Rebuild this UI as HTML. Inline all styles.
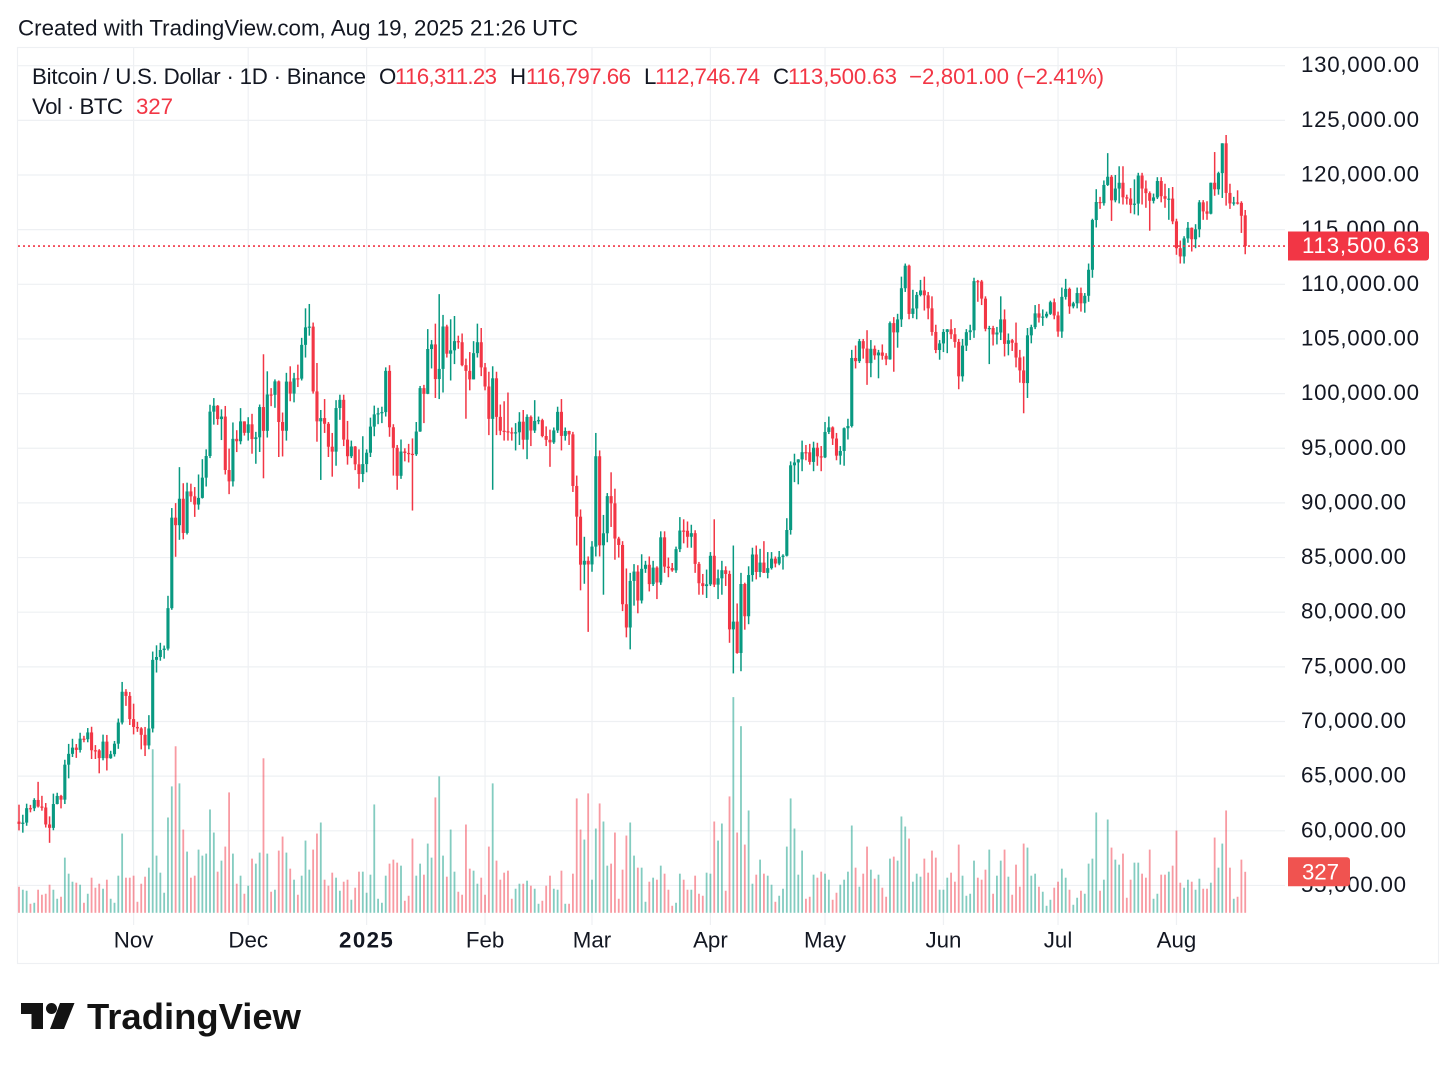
<!DOCTYPE html>
<html lang="en">
<head>
<meta charset="utf-8">
<title>Bitcoin / U.S. Dollar chart</title>
<style>
html,body{margin:0;padding:0;background:#fff;width:1456px;height:1070px;overflow:hidden}
svg{display:block;font-family:"Liberation Sans",Arial,sans-serif}
text{fill:#131722;font-size:22.3px}
.red{fill:#F23645}
</style>
</head>
<body>
<svg id="chart" xmlns="http://www.w3.org/2000/svg" width="1456" height="1070" viewBox="0 0 1456 1070">
  <rect x="0" y="0" width="1456" height="1070" fill="#ffffff"/>
  <text x="18" y="35.5" textLength="560">Created with TradingView.com, Aug 19, 2025 21:26 UTC</text>
  <rect x="17.5" y="47.5" width="1421" height="916" fill="none" stroke="#eef0f3" stroke-width="1.2"/>
  <g id="grid"></g>
  <g id="volumeBars"></g>
  <g id="candles"></g>
  <g id="priceAxis"></g>
  <g id="timeAxis"></g>
  <g>
    <text x="32" y="84" textLength="334">Bitcoin / U.S. Dollar · 1D · Binance</text>
    <text x="379" y="84">O</text>
    <text class="red" x="395" y="84" textLength="102">116,311.23</text>
    <text x="510" y="84">H</text>
    <text class="red" x="526" y="84" textLength="105">116,797.66</text>
    <text x="644" y="84">L</text>
    <text class="red" x="655" y="84" textLength="105">112,746.74</text>
    <text x="773" y="84">C</text>
    <text class="red" x="788" y="84" textLength="109">113,500.63</text>
    <text class="red" x="909" y="84" textLength="100">−2,801.00</text>
    <text class="red" x="1016" y="84" textLength="88">(−2.41%)</text>
    <text x="32" y="114" textLength="91">Vol · BTC</text>
    <text class="red" x="136" y="114" textLength="37">327</text>
  </g>
  <line id="lastPriceLine" x1="18" x2="1288" stroke="#F23645" stroke-width="1.7" stroke-dasharray="2 3"/>
  <g id="lastPriceTag"></g>
  <g id="lastVolumeTag"></g>
  <g>
    <path fill="#131313" d="M21 1003H43V1029H31.5V1014H21Z M60 1003H74.5L64 1029H50Z"/>
    <circle cx="51.5" cy="1008.5" r="5.5" fill="#131313"/>
    <text x="87" y="1029" textLength="214" lengthAdjust="spacingAndGlyphs" style="font-size:36px;font-weight:700;fill:#131313">TradingView</text>
  </g>
</svg>
<script>
// Axis labels
const priceTicks = [130000,125000,120000,115000,110000,105000,100000,95000,90000,85000,80000,75000,70000,65000,60000,55000];
const timeTickDates = ['2024-11-01','2024-12-01','2025-01-01','2025-02-01','2025-03-01','2025-04-01','2025-05-01','2025-06-01','2025-07-01','2025-08-01'];
const timeTickLabels = ['Nov','Dec','2025','Feb','Mar','Apr','May','Jun','Jul','Aug'];
const firstDate = '2024-10-02';

// Daily prices, USD thousands
const opens = [
60.84,60.63,60.75,62.07,62.06,62.82,62.22,62.13,60.58,60.27,
62.45,63.19,62.85,66.05,67.04,67.61,67.4,68.43,68.38,69.0,
67.37,67.36,66.65,68.16,66.64,67.01,67.97,69.91,72.72,72.34,
70.22,69.5,69.37,68.78,67.81,69.36,75.64,75.9,76.54,76.67,
80.37,88.65,87.96,90.38,87.25,91.05,90.6,89.85,90.46,92.31,
94.29,98.35,98.89,97.67,97.9,93.01,91.97,95.86,95.64,97.46,
96.41,97.19,95.84,96.0,98.77,96.59,99.92,99.89,101.12,97.4,
96.6,101.1,100.0,101.4,101.37,104.46,106.06,106.13,100.2,97.46,
97.76,97.24,95.14,94.69,98.68,99.43,95.79,94.27,95.16,93.53,
92.64,93.55,94.59,96.98,98.1,98.2,98.31,102.08,96.92,95.04,
92.48,94.7,94.57,94.49,94.45,96.53,100.5,99.98,104.08,104.5,
101.33,102.26,106.14,103.65,103.96,104.8,104.7,102.6,102.08,101.3,
103.7,104.7,102.4,100.65,97.69,101.4,97.87,96.6,96.55,96.46,
96.44,96.46,97.43,95.78,97.87,96.62,97.5,97.57,96.12,95.77,
95.54,96.63,98.33,96.13,96.58,96.27,91.55,88.74,84.35,84.7,
84.37,86.0,94.27,86.12,87.22,90.62,89.96,86.74,86.15,80.73,
78.6,82.86,83.72,81.07,83.97,84.34,82.57,84.08,82.72,86.85,
84.17,84.04,83.83,85.77,87.47,87.45,86.9,87.23,84.42,82.65,
82.39,82.55,85.16,82.52,83.1,83.84,83.5,78.43,79.14,76.27,
82.58,79.63,83.4,85.28,83.68,84.54,83.6,84.03,84.9,84.45,
85.06,85.17,87.52,93.44,93.7,93.98,94.64,94.63,93.75,95.05,
94.26,94.17,96.49,96.91,95.89,94.32,94.75,96.83,97.03,103.26,
102.97,104.8,104.12,102.79,104.1,103.5,103.76,103.46,103.13,106.45,
105.6,106.79,109.64,111.7,107.29,107.79,109.03,109.44,108.99,107.8,
105.64,103.99,104.59,105.64,105.88,105.43,104.73,101.58,104.39,105.62,
105.79,110.29,110.26,108.69,105.93,106.0,105.41,105.59,106.79,104.55,
104.88,104.65,103.3,102.12,100.96,105.33,106.08,107.34,106.95,107.05,
107.3,108.36,107.15,105.68,108.85,109.58,107.98,108.26,109.2,108.26,
108.95,111.33,115.88,117.53,117.42,119.09,119.84,117.68,118.76,119.29,
117.96,117.84,117.27,117.38,119.95,118.76,118.34,117.64,117.95,119.45,
118.06,117.83,117.84,115.76,113.3,112.55,114.2,115.17,114.12,115.03,
117.5,116.67,116.46,119.29,118.69,120.17,122.9,118.36,117.4,117.49,
117.45,116.31];
const highs = [
62.39,61.47,62.48,62.37,62.98,64.48,63.2,62.54,61.32,63.4,
63.48,63.29,66.5,67.95,68.42,67.94,68.97,68.69,69.4,69.52,
67.84,67.47,68.8,68.77,67.32,68.22,70.27,73.62,72.96,72.7,
71.63,69.97,69.48,69.5,70.58,76.4,76.97,77.2,76.95,81.5,
89.53,89.98,93.27,91.8,91.85,91.76,91.45,92.6,94.0,94.9,
98.98,99.59,98.95,98.56,98.87,94.97,97.36,96.65,98.67,97.46,
97.84,98.15,96.5,99.0,103.6,102.04,100.5,101.3,101.2,98.27,
101.9,102.5,101.9,102.65,105.1,107.8,108.2,106.5,102.8,98.5,
99.5,97.4,96.4,99.4,99.9,99.9,97.5,95.7,95.2,94.9,
96.1,94.9,97.8,98.9,98.7,98.8,102.4,102.6,97.2,95.3,
95.8,95.0,95.4,95.9,97.4,100.7,100.8,105.9,104.9,106.4,
109.1,107.2,106.3,106.8,107.1,105.3,105.5,103.2,103.8,104.8,
106.4,106.0,102.8,102.0,102.5,102.0,99.0,99.3,100.1,96.9,
97.3,98.3,98.5,98.1,98.0,99.4,97.9,97.7,97.0,96.7,
96.9,98.8,99.5,96.9,96.6,96.5,92.5,89.4,86.9,85.1,
86.5,96.4,94.8,88.9,90.9,92.8,91.3,86.9,86.5,84.0,
83.6,84.4,84.3,85.3,84.7,85.1,84.7,84.2,87.4,87.4,
85.0,84.5,86.0,88.7,88.5,88.3,88.0,87.5,84.6,83.5,
83.9,85.5,88.5,83.9,84.7,84.2,83.8,86.1,80.8,83.6,
82.7,84.2,85.9,86.1,85.8,86.5,85.5,85.5,85.1,85.6,
85.3,88.6,93.8,94.5,94.0,95.7,95.3,95.4,95.6,95.5,
95.2,97.4,97.9,97.0,96.4,95.2,96.9,97.7,104.0,104.4,
105.0,105.0,105.8,104.9,104.4,104.0,104.5,103.7,106.6,107.0,
107.3,110.7,111.9,111.8,109.5,109.3,110.4,110.7,109.3,108.9,
106.3,104.9,105.9,105.9,106.8,106.0,105.0,105.0,105.9,106.3,
110.6,110.4,110.4,108.9,106.2,106.2,106.1,108.9,107.7,105.5,
105.0,106.5,104.0,103.4,106.0,106.3,108.1,108.2,107.7,107.5,
108.5,108.7,107.5,109.7,110.5,109.7,108.4,109.7,109.7,109.2,
111.9,116.0,118.7,118.0,119.5,122.0,120.0,120.0,120.8,120.8,
118.2,118.8,119.6,120.2,120.2,119.5,118.5,118.3,119.8,119.8,
119.2,118.8,118.9,116.0,114.0,114.4,115.7,115.2,115.5,117.7,
117.7,117.6,119.3,122.1,120.3,122.9,123.66,119.2,118.0,118.6,
117.6,116.8];
const lows = [
60.04,59.83,60.46,61.69,61.8,62.13,61.84,60.3,58.9,60.05,
62.42,62.05,62.45,64.8,66.75,66.67,67.16,68.1,68.1,66.57,
66.57,65.26,66.45,65.52,66.59,66.79,67.5,69.73,71.43,69.68,
68.82,69.05,67.45,66.84,67.46,69.0,74.48,75.56,75.75,76.5,
80.22,85.07,86.62,86.67,87.11,90.09,88.72,89.38,90.4,91.5,
94.1,97.16,97.14,95.75,92.6,90.8,91.5,94.65,95.36,96.16,
95.7,94.5,93.58,94.66,92.25,95.98,98.85,98.7,94.2,94.25,
95.7,99.3,99.2,100.6,101.2,103.3,105.3,100.0,95.6,92.1,
96.4,94.2,92.4,93.4,97.6,95.2,93.5,94.1,93.0,91.3,
91.9,92.8,94.2,96.1,97.2,97.3,97.9,96.05,92.5,91.2,
92.2,93.8,93.7,89.3,94.3,96.5,97.3,99.95,102.3,99.6,
99.5,100.1,103.3,101.2,102.7,104.1,102.5,97.7,100.3,101.3,
103.3,101.6,100.3,96.2,91.2,96.2,96.2,95.7,95.7,95.7,
94.8,95.3,94.9,94.0,95.2,96.4,97.2,96.0,95.2,93.3,
95.4,96.4,94.8,95.7,95.3,91.0,86.1,82.0,82.6,78.2,
83.7,85.1,85.1,81.6,86.4,87.8,84.8,85.0,80.1,77.7,
76.6,80.6,79.9,80.8,83.6,81.9,82.4,81.2,82.5,83.6,
83.2,83.7,83.6,85.5,86.3,85.9,85.9,83.6,81.6,81.6,
81.3,82.4,82.3,81.2,81.6,82.4,77.2,74.4,76.2,74.6,
78.4,78.9,82.8,83.0,83.2,83.6,83.1,83.9,84.1,84.3,
83.9,85.1,87.1,91.9,91.7,92.9,93.9,93.5,92.9,93.4,
92.9,94.1,96.3,95.3,93.9,93.5,93.4,95.8,96.9,102.3,
102.8,103.2,100.8,101.5,103.1,101.4,103.1,102.6,103.1,102.0,
104.2,106.1,109.3,106.8,106.9,106.8,108.9,107.6,106.8,105.3,
103.7,103.1,103.8,103.7,105.0,104.2,100.4,101.1,103.9,104.9,
105.1,108.4,108.1,105.7,102.7,104.4,104.5,104.9,103.4,103.5,
103.9,102.4,101.0,98.2,99.6,104.6,105.9,106.5,106.2,106.9,
107.2,106.8,105.2,105.1,108.6,107.3,107.8,107.8,107.5,107.4,
108.4,110.6,115.2,116.9,117.2,119.0,115.8,117.5,117.4,117.3,
117.3,116.5,116.4,116.3,117.3,117.0,114.9,117.4,117.8,117.5,
117.0,115.9,115.5,112.7,111.9,111.9,113.8,113.0,113.3,114.3,
115.9,115.9,116.4,118.1,118.2,117.9,117.2,116.9,117.2,117.3,
114.7,112.75];
const closes = [
60.63,60.75,62.07,62.06,62.82,62.22,62.13,60.58,60.27,62.45,
63.19,62.85,66.05,67.04,67.61,67.4,68.43,68.38,69.0,67.37,
67.36,66.65,68.16,66.64,67.01,67.97,69.91,72.72,72.34,70.22,
69.5,69.37,68.78,67.81,69.36,75.64,75.9,76.54,76.67,80.37,
88.65,87.96,90.38,87.25,91.05,90.6,89.85,90.46,92.31,94.29,
98.35,98.89,97.67,97.9,93.01,91.97,95.86,95.64,97.46,96.41,
97.19,95.84,96.0,98.77,96.59,99.92,99.89,101.12,97.4,96.6,
101.1,100.0,101.4,101.37,104.46,106.06,106.13,100.2,97.46,97.76,
97.24,95.14,94.69,98.68,99.43,95.79,94.27,95.16,93.53,92.64,
93.55,94.59,96.98,98.1,98.2,98.31,102.08,96.92,95.04,92.48,
94.7,94.57,94.49,94.45,96.53,100.5,99.98,104.08,104.5,101.33,
102.26,106.14,103.65,103.96,104.8,104.7,102.6,102.08,101.3,103.7,
104.7,102.4,100.65,97.69,101.4,97.87,96.6,96.55,96.46,96.44,
96.46,97.43,95.78,97.87,96.62,97.5,97.57,96.12,95.77,95.54,
96.63,98.33,96.13,96.58,96.27,91.55,88.74,84.35,84.7,84.37,
86.0,94.27,86.12,87.22,90.62,89.96,86.74,86.15,80.73,78.6,
82.86,83.72,81.07,83.97,84.34,82.57,84.08,82.72,86.85,84.17,
84.04,83.83,85.77,87.47,87.45,86.9,87.23,84.42,82.65,82.39,
82.55,85.16,82.52,83.1,83.84,83.5,78.43,79.14,76.27,82.58,
79.63,83.4,85.28,83.68,84.54,83.6,84.03,84.9,84.45,85.06,
85.17,87.52,93.44,93.7,93.98,94.64,94.63,93.75,95.05,94.26,
94.17,96.49,96.91,95.89,94.32,94.75,96.83,97.03,103.26,102.97,
104.8,104.12,102.79,104.1,103.5,103.76,103.46,103.13,106.45,105.6,
106.79,109.64,111.7,107.29,107.79,109.03,109.44,108.99,107.8,105.64,
103.99,104.59,105.64,105.88,105.43,104.73,101.58,104.39,105.62,105.79,
110.29,110.26,108.69,105.93,106.0,105.41,105.59,106.79,104.55,104.88,
104.65,103.3,102.12,100.96,105.33,106.08,107.34,106.95,107.05,107.3,
108.36,107.15,105.68,108.85,109.58,107.98,108.26,109.2,108.26,108.95,
111.33,115.88,117.53,117.42,119.09,119.84,117.68,118.76,119.29,117.96,
117.84,117.27,117.38,119.95,118.76,118.34,117.64,117.95,119.45,118.06,
117.83,117.84,115.76,113.3,112.55,114.2,115.17,114.12,115.03,117.5,
116.67,116.46,119.29,118.69,120.17,122.9,118.36,117.4,117.49,117.45,
116.27,113.5];
// Daily volume, BTC
const volumes = [
208,184,176,72,80,184,144,152,224,184,112,128,440,312,248,240,224,80,152,280,
200,232,192,264,112,80,296,632,280,280,296,88,232,288,360,1304,456,320,160,760,
1008,1328,1032,664,488,280,296,504,456,472,824,640,328,416,528,960,472,232,296,152,
216,432,392,480,1232,472,168,184,496,608,480,352,264,144,296,576,344,504,632,
720,264,216,320,280,176,248,264,104,200,328,328,160,304,864,112,80,296,392,424,400,
376,96,136,592,296,392,304,552,440,920,1088,456,288,664,328,168,144,704,352,336,
232,280,144,528,1032,416,264,320,336,112,192,232,232,256,216,192,72,96,216,296,
192,184,336,72,72,312,912,664,584,952,
264,672,872,728,376,392,640,112,344,616,720,456,360,360,88,248,280,264,376,312,
184,56,80,312,264,184,184,296,152,136,320,312,728,576,712,176,928,1720,640,1488,
544,816,232,304,424,312,296,224,88,136,192,528,912,672,304,
496,112,128,304,280,328,312,264,104,160,224,264,328,696,360,208,312,528,344,272,
304,200,128,432,448,416,768,688,592,248,312,288,432,320,496,440,184,184,280,320,
248,544,296,136,152,416,280,264,344,504,152,296,416,504,288,144,384,208,552,520,
296,312,208,168,56,104,200,248,352,280,184,64,120,176,152,392,432,800,176,264,
744,520,424,384,472,120,264,400,400,312,280,504,112,152,304,304,328,376,656,240,
200,264,248,184,272,192,192,240,600,360,552,816,360,112,128,424,327];

const lastPrice = 113500.63;
const lastPriceText = '113,500.63';
const lastVolumeText = '327';

const SVG_NS = 'http://www.w3.org/2000/svg';
const DAY_MS = 86400000;
const GREEN = '#089981';
const RED = '#F23645';

function xAxis(dayIndex){ return 19 + dayIndex * 3.82; }
function yPrice(usd){ return 65.7 + (130000 - usd) * 0.01093; }
function yVolume(v){ return 912.8 - v * 0.1254; }
function dayIndex(date){ return Math.round((Date.parse(date) - Date.parse(firstDate)) / DAY_MS); }
function formatPrice(v){ return v.toLocaleString('en-US', {minimumFractionDigits:2, maximumFractionDigits:2}); }
function make(tag, attrs, parent){
  const el = document.createElementNS(SVG_NS, tag);
  for (const k in attrs) el.setAttribute(k, attrs[k]);
  parent.appendChild(el);
  return el;
}

const gridGroup = document.getElementById('grid');
priceTicks.forEach(function(p){
  const el = make('line', {x1:18, x2:1285, y1:yPrice(p), y2:yPrice(p), stroke:'#eef0f3', 'stroke-width':1.2}, gridGroup);
  
  
});
timeTickDates.forEach(function(d){
  const x = xAxis(dayIndex(d));
  const el = make('line', {x1:x, x2:x, y1:48, y2:925, stroke:'#eef0f3', 'stroke-width':1.2}, gridGroup);
  
  
});

const volumeGroup = document.getElementById('volumeBars');
volumes.forEach(function(v, i){
  const up = closes[i] >= opens[i];
  const top = yVolume(v);
  const el = make('rect', {x:xAxis(i) - 0.9, y:top, width:1.8, height:yVolume(0) - top, fill:up ? GREEN : RED, 'fill-opacity':0.5}, volumeGroup);
  
  
});

const candleGroup = document.getElementById('candles');
closes.forEach(function(c, i){
  const up = c >= opens[i];
  const color = up ? GREEN : RED;
  const x = xAxis(i);
  const g = make('g', {}, candleGroup);
  
  
  const hi = yPrice(highs[i] * 1000), lo = yPrice(lows[i] * 1000);
  make('rect', {x:x - 0.75, y:hi, width:1.5, height:lo - hi, fill:color}, g);
  const bt = yPrice(Math.max(opens[i], c) * 1000), bb = yPrice(Math.min(opens[i], c) * 1000);
  make('rect', {x:x - 1.55, y:bt, width:3.1, height:Math.max(bb - bt, 1.2), fill:color}, g);
});

const priceAxisGroup = document.getElementById('priceAxis');
priceTicks.forEach(function(p){
  const label = formatPrice(p);
  const el = make('text', {x:1301, y:yPrice(p) + 6.5, textLength:label.length === 10 ? 118 : 105}, priceAxisGroup);
  el.textContent = label;
  
  
});

const timeAxisGroup = document.getElementById('timeAxis');
timeTickLabels.forEach(function(label, i){
  const el = make('text', {x:xAxis(dayIndex(timeTickDates[i])), y:947.5, 'text-anchor':'middle'}, timeAxisGroup);
  el.textContent = label;
  if (label === '2025') { el.setAttribute('font-weight', '700'); el.setAttribute('letter-spacing', '1.4'); }
  
  
});

const lastY = yPrice(lastPrice);
const priceLine = document.getElementById('lastPriceLine');
priceLine.setAttribute('y1', lastY);
priceLine.setAttribute('y2', lastY);

const priceTag = document.getElementById('lastPriceTag');
make('path', {d:'M1288 ' + (lastY - 14.5) + 'H1426a3 3 0 0 1 3 3V' + (lastY + 11.5) + 'a3 3 0 0 1 -3 3H1288Z', fill:RED}, priceTag);
const priceTagText = make('text', {x:1302, y:lastY + 7, textLength:117, style:'fill:#ffffff'}, priceTag);
priceTagText.textContent = lastPriceText;

const volumeTag = document.getElementById('lastVolumeTag');
const volY = yVolume(volumes[volumes.length - 1]);
make('path', {d:'M1288 ' + (volY - 14.5) + 'H1347a3 3 0 0 1 3 3V' + (volY + 11.5) + 'a3 3 0 0 1 -3 3H1288Z', fill:'#F05350'}, volumeTag);
const volumeTagText = make('text', {x:1302, y:volY + 7.5, textLength:37, style:'fill:#ffffff'}, volumeTag);
volumeTagText.textContent = lastVolumeText;
</script>
</body>
</html>
